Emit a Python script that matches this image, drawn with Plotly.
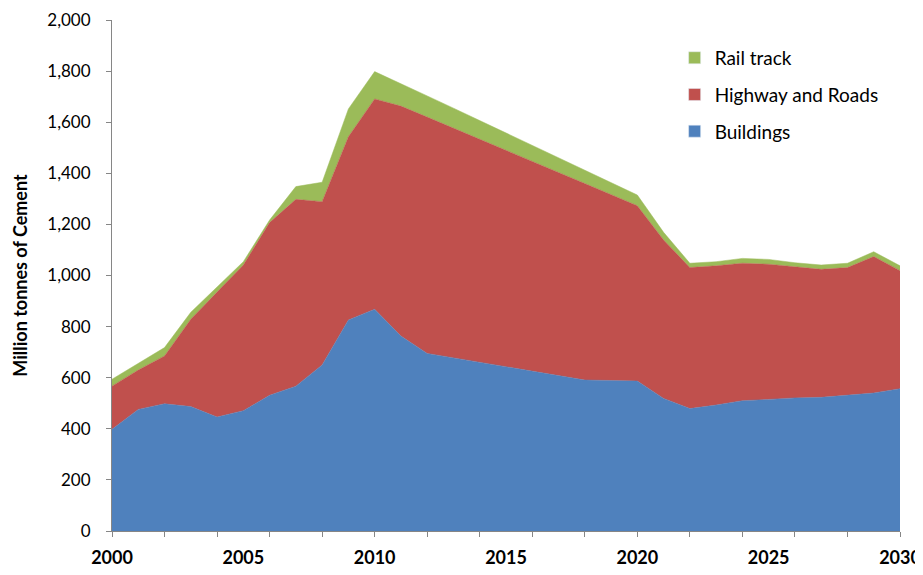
import plotly.graph_objects as go

years = list(range(2000, 2031))
buildings = [398, 476, 498, 487, 446, 471, 531, 567, 650, 826, 868, 763, 695, 678, 660, 643,
             625, 608, 591, 589, 587, 519, 479, 493, 510, 515, 521, 523, 531, 540, 557]
highway = [169, 154, 187, 342, 489, 570, 676, 731, 639, 717, 823, 900, 925, 898, 873, 847,
           821, 795, 769, 727, 686, 620, 552, 545, 538, 529, 513, 501, 500, 534, 462]
rail = [27, 26, 33, 27, 20, 13, 10, 50, 76, 109, 107, 89, 83, 79, 73, 68,
        63, 58, 52, 48, 42, 30, 17, 16, 19, 19, 16, 17, 17, 19, 19]

series_names = ["Buildings", "Highway and Roads", "Rail track"]
series_values = [buildings, highway, rail]
colors = ["#4F81BD", "#C0504D", "#9BBB59"]
x_labels = ["2000", "2005", "2010", "2015", "2020", "2025", "2030"]

FONT = "Lato"
fig = go.Figure()
for name, vals, col in zip(series_names, series_values, colors):
    fig.add_trace(go.Scatter(x=years, y=vals, name=name, stackgroup="one", mode="lines",
                             line=dict(width=0.5, color=col), fillcolor=col, showlegend=False))
# legend entries (square swatches), top to bottom
for name, col in zip(reversed(series_names), reversed(colors)):
    fig.add_trace(go.Bar(x=[None], y=[None], name=name, marker_color=col, legendgroup=name,
                         showlegend=True))

axis_line = "#868686"
fig.update_layout(
    width=923, height=575,
    margin=dict(l=104, r=31, t=12, b=52),
    paper_bgcolor="white", plot_bgcolor="white",
    font=dict(family=FONT, size=17, color="black"),
    legend=dict(x=0.714, y=0.963, xanchor="left", yanchor="top", traceorder="grouped",
                tracegroupgap=9, itemwidth=30, font=dict(size=19), bgcolor="rgba(0,0,0,0)"),
    xaxis=dict(range=[2000, 2030], tickvals=[int(v) for v in x_labels],
               ticktext=["<b>%s</b>" % v for v in x_labels], automargin=False,
               ticks="", showgrid=False, zeroline=False, showline=True, linecolor=axis_line,
               linewidth=1, ticklabelstandoff=10, tickfont=dict(size=18),
               minor=dict(tick0=2000, dtick=2, ticks="outside", ticklen=5, tickcolor=axis_line,
                          showgrid=False)),
    yaxis=dict(range=[0, 2000], dtick=200, tickformat=",d", ticks="outside", ticklen=5,
               tickcolor=axis_line, showgrid=False, zeroline=False, showline=True,
               linecolor=axis_line, linewidth=1, ticklabelstandoff=12, automargin=False,
               title=dict(text="<b>Million tonnes of Cement</b>", font=dict(size=18), standoff=14)),
)
fig.write_html("out.html")
